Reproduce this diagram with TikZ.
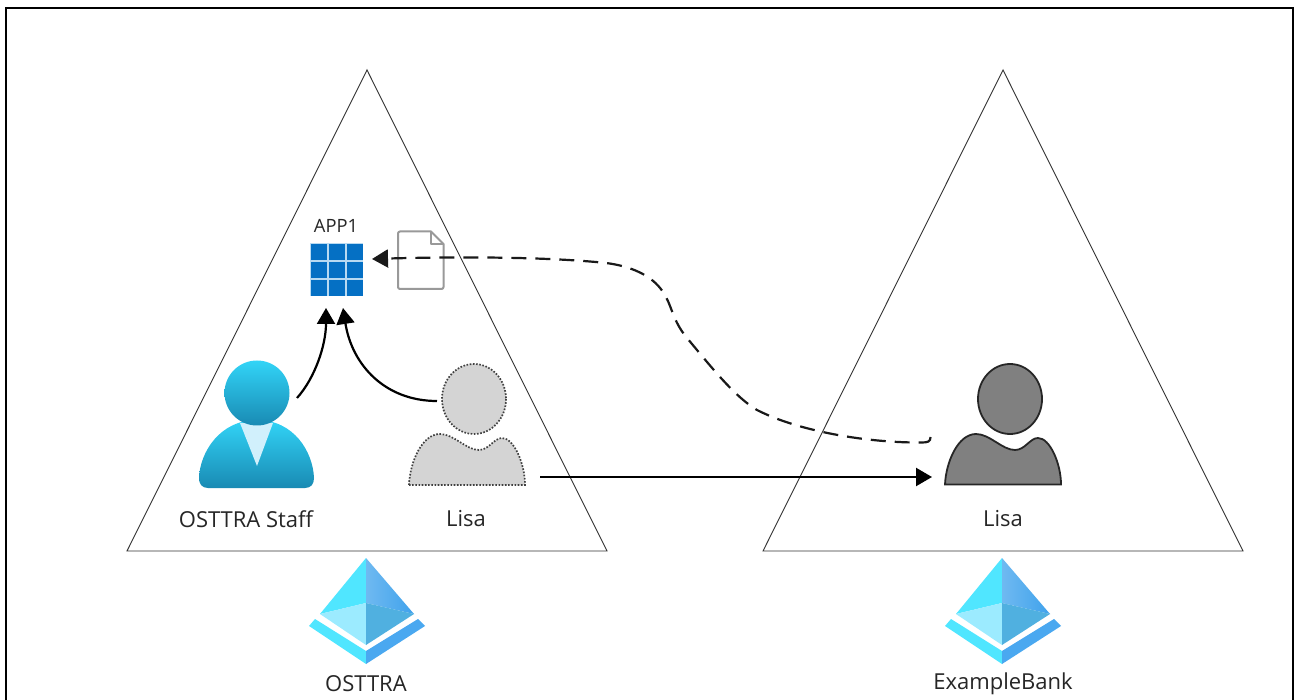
\documentclass[tikz,border=0pt]{standalone}
\usepackage{fontspec}
\setmainfont{Open Sans}
\usetikzlibrary{arrows.meta}
\definecolor{txt}{HTML}{262626}
\definecolor{cyanA}{HTML}{32D4F7}
\definecolor{cyanB}{HTML}{198AB3}
\definecolor{gridblue}{HTML}{0570C4}
\definecolor{gridpale}{HTML}{B8DAF2}
\definecolor{diaA}{HTML}{50E6FF}
\definecolor{diaB}{HTML}{3FA2EC}
\definecolor{diaC}{HTML}{9CEBFF}
\definecolor{diaD}{HTML}{50B0E0}
\definecolor{diaE}{HTML}{4AA8F0}
\tikzset{
 tri/.style={draw=black!80,line width=0.9pt,fill=white,line join=miter},
 lab/.style={font=\fontsize{22}{26}\selectfont,text=txt,inner sep=0pt},
 smalllab/.style={font=\fontsize{18.3}{22}\selectfont,text=txt,inner sep=0pt},
 anchorbox/.style={inner sep=0pt,outer sep=0pt,minimum width=#1},
 conn/.style={draw=black,line width=2.2pt,-{Triangle[length=16pt,width=18pt]}},
 dashconn/.style={draw=black!90,line width=2.2pt,dash pattern=on 15pt off 9pt,-{Triangle[length=16pt,width=18pt]}},
 greyperson/.style={fill=black!17,draw=black!75,line width=1.7pt,dash pattern=on 1.6pt off 1.6pt},
 darkperson/.style={fill=black!50,draw=black!85,line width=1.8pt},
 docline/.style={draw=black!40,line width=2pt,line join=round},
}
\newcommand{\gridcell}[2]{\fill[gridblue] (#1,#2) rectangle ++(16.4,16.4);}
\newcommand{\diamondicon}[1]{%
 \begin{scope}[shift={(#1,0)}]
  \fill[diaA] (0,558) -- (-46,614) -- (0,603) -- cycle;
  \shade[left color=diaB!75!white,right color=diaB] (0,558) -- (48,614) -- (0,603) -- cycle;
  \fill[diaC] (-46,614) -- (0,603) -- (0,645) -- cycle;
  \fill[diaD] (48,614) -- (0,603) -- (0,645) -- cycle;
  \fill[diaA] (-57,626) -- (-51,619) -- (0,651) -- (0,664) -- cycle;
  \fill[diaE] (59,626) -- (52,619) -- (0,651) -- (0,664) -- cycle;
 \end{scope}}
\begin{document}
\begin{tikzpicture}[x=1pt,y=-1pt]
\useasboundingbox (0,0) rectangle (1296,700);
\fill[white] (0,0) rectangle (1296,700);
% frame
\draw[black,line width=2pt] (6,710) -- (6,8.5) -- (1293,8.5) -- (1293,710);
% triangles
\draw[tri] (367,70) -- (607,551) -- (127,551) -- cycle;
\draw[tri] (1003,70) -- (1243,551) -- (763,551) -- cycle;
% app grid
\node[anchorbox=53pt,minimum height=53pt] (app) at (336.5,269.5) {};
\fill[gridpale] (310,243) rectangle (363,296);
\foreach \i in {0,...,2}\foreach \j in {0,...,2}{\gridcell{310.6+\i*18}{243.6+\j*18}}
\node[smalllab] (applab) at (336,226) {APP1};
% document
\node[anchorbox=46pt,minimum height=58pt] (doc) at (421,260) {};
\draw[docline,fill=white] (400,231.5) -- (431,231.5) -- (443.5,244) -- (443.5,287) arc (0:90:2) -- (400,289) arc (90:180:2) -- (398,233.5) arc (180:270:2) -- cycle;
\draw[docline] (431,231.5) -- (431,244) -- (443.5,244);
% staff
\node[anchorbox=115pt,minimum height=128pt] (staff) at (256.5,424) {};
\shade[top color=cyanA,bottom color=cyanB] (199,478)
  .. controls (200,452) and (220,420) .. (257,420)
  .. controls (294,420) and (313,452) .. (314,478)
  .. controls (314,484) and (311,488) .. (305,488)
  -- (208,488) .. controls (202,488) and (199,484) .. (199,478) -- cycle;
\fill[white!82!cyan] (240,423) -- (273,423) -- (257,466) -- cycle;
\shade[top color=cyanA,bottom color=cyanB] (257,393) circle [radius=32.5];
% grey Lisa
\node[anchorbox=116pt,minimum height=121pt] (greylisa) at (467,425) {};
\draw[greyperson] (474,399) ellipse [x radius=32,y radius=35];
\draw[greyperson] (409,485) .. controls (410,462) and (422,434) .. (440,434)
  .. controls (454,434) and (466,450) .. (479,450)
  .. controls (489,450) and (494,438) .. (502,438)
  .. controls (514,438) and (525,464) .. (525,485) -- cycle;
% dark Lisa
\node[anchorbox=116pt,minimum height=121pt] (darklisa) at (1003,425) {};
\draw[darkperson] (1010,399) ellipse [x radius=32,y radius=35];
\draw[darkperson] (945,484.5) .. controls (946,462) and (958,434) .. (976,434)
  .. controls (990,434) and (1002,450) .. (1015,450)
  .. controls (1025,450) and (1030,438) .. (1038,438)
  .. controls (1050,438) and (1061,464) .. (1061,484.5) -- cycle;
% connector ends
\coordinate (a1) at (297,398);
\coordinate (a2) at (326,308);
\coordinate (b1) at (437,401);
\coordinate (b2) at (343,308);
\coordinate (c1) at (540,477);
\coordinate (c2) at (932,477);
\coordinate (d1) at (930.5,437);
\coordinate (d2) at (372,259);
\draw[conn] (a1) .. controls (315,378) and (326,345) .. (a2);
\draw[conn] (b1) .. controls (385,401) and (352,365) .. (b2);
\draw[conn] (c1) -- (c2);
\draw[dashconn] (d1) .. controls (930.5,441.5) and (928,442.5) .. (922,442.5)
  .. controls (870,443) and (800,432) .. (757,410)
  .. controls (735,397) and (712,368) .. (687,338)
  .. controls (672,320) and (672,305) .. (663,292)
  .. controls (652,275) and (630,266) .. (606,263)
  .. controls (540,256) and (440,257) .. (d2);
% icons
\diamondicon{366}
\diamondicon{1002}
\node[anchorbox=116pt,minimum height=106pt] (dirA) at (367,611) {};
\node[anchorbox=116pt,minimum height=106pt] (dirB) at (1003,611) {};
% labels
\node[lab] (l1) at (246,519) {OSTTRA Staff};
\node[lab] (l2) at (466,519) {Lisa};
\node[lab] (l3) at (1003,519) {Lisa};
\node[lab] (l4) at (366,684) {OSTTRA};
\node[lab] (l5) at (1003,684) {ExampleBank};
\end{tikzpicture}
\end{document}
